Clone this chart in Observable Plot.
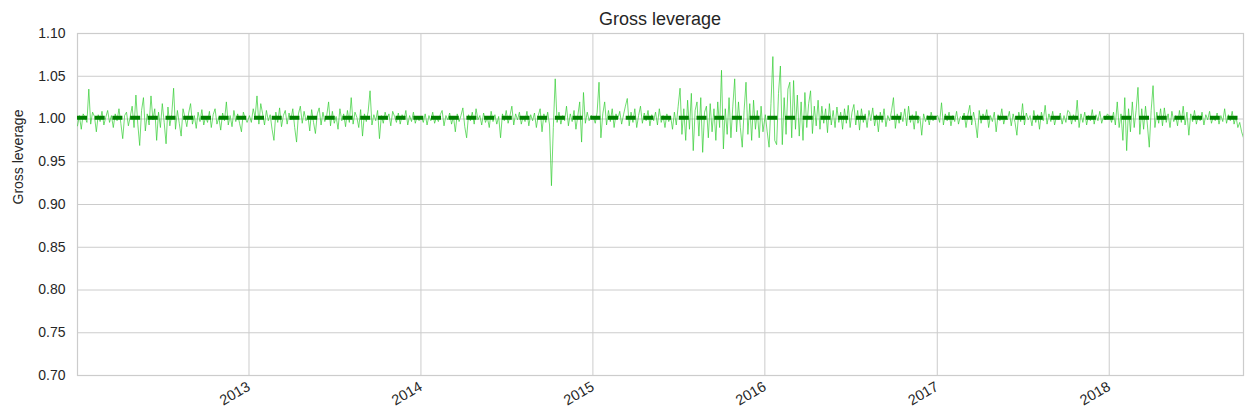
<!DOCTYPE html>
<html>
<head>
<meta charset="utf-8">
<script src="https://cdn.jsdelivr.net/npm/d3@7"></script>
<script src="https://cdn.jsdelivr.net/npm/@observablehq/plot@0.6"></script>
<style>
  html, body { margin: 0; padding: 0; background: #ffffff; }
  #wrap { width: 1245px; height: 418px; overflow: hidden; font-family: "Liberation Sans", Arial, sans-serif; }
  #title {
    position: relative; z-index: 1;
    box-sizing: border-box; height: 24px; padding: 10px 2px 0 77px;
    text-align: center; font-size: 18px; line-height: 18px; color: #262626;
  }
</style>
</head>
<body>
<div id="wrap">
  <div id="title">Gross leverage</div>
  <div id="chart"></div>
</div>
<script>
// Daily gross leverage, sampled every 4 calendar days, one array per year.
const lev2012 = [0.992,1.004,0.988,1.006,1.002,0.996,1.035,0.994,1.008,1.003,0.985,1.005,0.997,1.009,0.993,1.002,1.010,0.996,1.004,0.990,1.006,0.998,1.012,0.995,0.977,1.004,1.008,0.992,1.003,1.015,0.990,1.028,0.994,0.969,1.010,1.025,0.986,1.006,0.993,1.027,0.999,1.012,0.975,1.008,0.990,1.018,0.996,0.971,1.014,0.992,1.005,1.036,0.988,1.010,0.995,0.980,1.012,1.002,0.991,1.007,1.018,0.994,1.004,0.989,1.008,0.997,1.011,0.993,1.003,0.996,1.009,0.990,1.005,1.012,0.994,1.002,0.987,1.007,0.998,1.020,0.993,1.004,0.991,1.010,0.997,1.006,0.995,0.985,1.008,1.001,0.996];
const lev2013 = [1.004,0.996,1.012,1.002,1.027,0.994,1.018,1.006,0.993,1.010,0.998,1.005,0.988,0.975,1.008,0.996,1.013,0.991,1.004,1.010,0.994,1.007,0.999,1.012,0.990,0.973,1.006,1.015,0.995,1.009,0.998,1.004,0.986,1.011,0.996,0.983,1.006,1.013,0.993,1.008,0.997,1.004,1.020,0.992,1.009,0.995,1.003,0.988,1.012,0.998,1.006,0.991,1.010,0.996,1.025,0.994,1.008,1.002,0.990,1.011,0.980,1.006,0.997,1.009,1.033,0.993,1.005,0.998,1.010,0.977,1.004,0.995,1.008,0.999,1.006,0.992,1.009,1.003,0.996,1.007,0.994,1.005,0.999,1.010,0.993,1.004,0.997,1.008,0.995,1.003,0.998];
const lev2014 = [1.003,0.996,1.006,0.993,1.004,0.998,1.008,0.995,1.002,0.997,1.005,1.010,0.992,1.004,0.999,1.007,0.994,1.003,0.985,1.006,0.997,1.004,1.013,0.991,0.978,1.005,0.998,1.008,0.994,1.012,0.999,1.004,0.993,1.007,0.996,1.002,0.990,1.009,0.997,1.005,0.994,1.003,0.978,1.006,0.998,1.010,0.995,1.004,1.015,0.993,1.006,0.999,1.008,0.994,1.003,0.997,1.009,0.992,1.005,0.998,1.007,0.990,1.004,1.012,0.985,1.006,0.996,1.008,0.993,0.922,0.990,1.047,0.996,1.008,0.994,1.004,0.998,1.015,0.992,1.006,0.997,1.010,0.988,1.004,1.020,0.973,1.031,0.995,1.008,0.998,1.004];
const lev2015 = [1.002,0.995,1.008,1.043,0.978,1.006,1.020,0.993,1.010,0.997,1.012,0.990,1.006,1.000,1.009,0.994,1.005,1.015,1.024,0.992,1.008,0.996,1.012,0.990,1.004,1.015,0.995,1.007,0.998,1.010,0.992,1.005,0.998,1.008,0.993,1.012,0.996,1.004,0.990,1.006,0.997,1.003,0.988,1.008,0.993,1.015,1.036,0.982,1.012,0.975,1.022,0.988,1.030,0.963,1.010,1.020,0.980,1.025,0.961,1.008,1.015,0.978,1.018,0.985,1.012,0.975,1.020,0.990,1.057,0.965,1.012,0.982,1.025,0.978,1.015,1.047,0.985,1.020,0.990,0.967,1.010,1.043,0.982,1.018,0.975,1.022,0.988,1.010,0.978,1.015,0.985];
const lev2016 = [1.005,0.985,0.967,1.018,1.073,0.975,0.970,1.030,1.062,0.970,1.025,0.982,1.035,1.043,0.978,1.045,0.988,1.028,0.980,1.020,0.975,1.031,0.990,1.018,1.033,0.983,1.015,0.992,1.022,0.988,1.015,0.995,1.012,0.984,1.018,0.993,1.010,0.990,1.014,0.996,1.008,0.988,1.012,0.995,1.016,0.990,1.008,1.017,0.993,1.010,0.987,1.012,0.996,1.006,0.990,1.010,0.998,1.013,0.992,1.005,0.985,1.008,0.996,1.012,0.991,1.004,0.998,1.010,1.025,0.989,1.006,0.995,1.008,0.997,1.012,0.992,1.015,0.996,1.005,0.988,1.009,0.995,1.003,0.981,1.006,0.997,1.004,0.993,1.008,0.998,1.002];
const lev2017 = [1.004,0.996,1.019,0.993,1.006,0.998,1.008,0.992,1.004,0.997,1.009,0.994,1.003,0.999,1.007,0.990,1.005,1.016,0.993,1.008,0.996,0.978,1.010,0.995,1.006,0.999,1.011,0.990,1.004,0.997,1.008,0.985,1.005,0.998,1.012,0.994,1.003,0.999,1.009,0.992,1.006,0.996,0.981,1.008,0.997,1.018,0.993,1.007,0.999,1.004,0.992,1.010,0.996,1.005,0.988,1.008,0.998,1.016,0.994,1.006,0.997,1.009,0.993,1.003,0.999,1.007,0.994,1.004,0.996,1.010,1.008,0.994,1.005,0.997,1.022,0.990,1.006,0.996,1.008,0.993,1.004,0.998,1.011,0.994,1.005,0.998,1.009,0.995,1.003,0.999,1.006];
const lev2018 = [1.003,0.996,1.008,0.993,1.020,0.990,1.006,0.975,1.025,0.963,1.012,0.985,1.020,0.990,1.010,1.037,0.982,1.012,0.988,1.015,0.993,0.967,1.010,1.039,0.990,1.008,0.995,1.012,0.992,1.013,0.996,1.006,0.990,1.009,0.997,1.004,0.992,1.010,0.996,1.015,0.993,1.008,0.981,1.006,0.997,1.010,0.994,1.004,0.998,1.008,0.993,1.005,0.999,1.009,0.995,1.003,0.998,1.007,0.994,1.004,0.997,1.012,0.995,1.005,0.998,1.009,0.994,1.003,0.990,0.996,0.985,0.978];

// First sampled date of each year's array
const firstDates = ["2012-01-03","2013-01-02","2014-01-02","2015-01-02","2016-01-02","2017-01-02","2018-01-02"];
const yearly = [lev2012, lev2013, lev2014, lev2015, lev2016, lev2017, lev2018];
const stepDays = 4;

const yTicks = [0.70, 0.75, 0.80, 0.85, 0.90, 0.95, 1.00, 1.05, 1.10];
const xTickYears = ["2013","2014","2015","2016","2017","2018"];
const xDomain = ["2012-01-03", "2018-10-13"];

const rows = yearly.flatMap((vals, k) =>
  vals.map((v, i) => ({ date: d3.utcDay.offset(new Date(firstDates[k]), stepDays * i), value: v }))
);
const meanLev = d3.mean(rows, d => d.value);
const xTicks = xTickYears.map(y => new Date(y + "-01-01"));

const chart = Plot.plot({
  width: 1245,
  height: 394,
  marginTop: 9,
  marginBottom: 43,
  marginLeft: 77,
  marginRight: 2,
  style: { fontFamily: "'Liberation Sans', Arial, sans-serif", fontSize: "14px", color: "#262626", background: "transparent" },
  x: { type: "utc", domain: xDomain.map(d => new Date(d)) },
  y: { domain: [0.70, 1.10] },
  marks: [
    Plot.gridX(xTicks, { stroke: "#cccccc", strokeOpacity: 1, strokeWidth: 1 }),
    Plot.gridY(yTicks, { stroke: "#cccccc", strokeOpacity: 1, strokeWidth: 1 }),
    Plot.frame({ stroke: "#cccccc", strokeWidth: 1.2 }),
    Plot.lineY(rows, { x: "date", y: "value", stroke: "#32cd32", strokeWidth: 0.7, clip: true }),
    Plot.ruleY([meanLev], { stroke: "#008000", strokeWidth: 4, strokeDasharray: "10,7.7" }),
    Plot.axisY(yTicks, { tickSize: 0, tickPadding: 12, tickFormat: d3.format(".2f"), label: null, fontSize: 14 }),
    Plot.axisX(xTicks, { tickSize: 0, tickPadding: 10, tickRotate: -30, tickFormat: d3.utcFormat("%Y"), label: null, fontSize: 14.5 }),
    Plot.text(["Gross leverage"], { frameAnchor: "left", rotate: -90, dx: -59, fontSize: 14, fill: "#262626" })
  ]
});
document.getElementById("chart").appendChild(chart);
</script>
</body>
</html>
